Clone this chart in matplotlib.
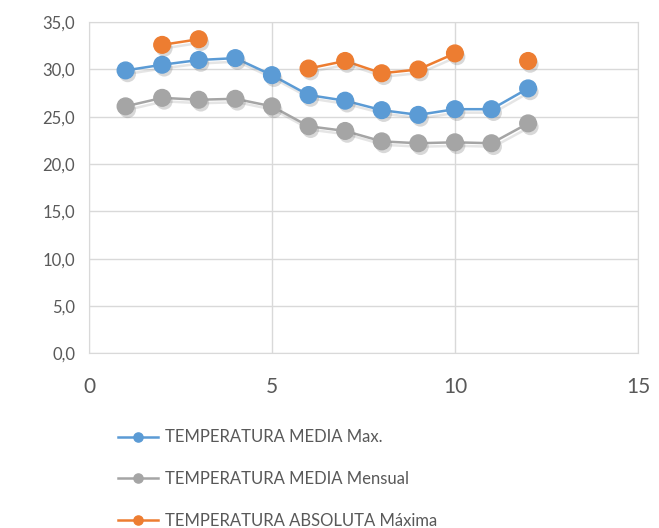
import matplotlib
matplotlib.use('Agg')
import matplotlib.pyplot as plt
import matplotlib.patheffects as pe
import numpy as np

plt.rcParams['font.family'] = ['Lato', 'DejaVu Sans']

meses = [1, 2, 3, 4, 5, 6, 7, 8, 9, 10, 11, 12]
media_max = [29.9, 30.5, 31.0, 31.2, 29.4, 27.3, 26.7, 25.7, 25.2, 25.8, 25.8, 28.0]
media_mensual = [26.1, 27.0, 26.8, 26.9, 26.1, 24.0, 23.5, 22.4, 22.2, 22.3, 22.2, 24.3]
absoluta_max = [np.nan, 32.6, 33.2, np.nan, np.nan, 30.1, 30.9, 29.6, 30.0, 31.7, np.nan, 30.9]

nombres = ['TEMPERATURA MEDIA Max.', 'TEMPERATURA MEDIA Mensual', 'TEMPERATURA ABSOLUTA Máxima']
colores = ['#5b9bd5', '#a5a5a5', '#ed7d31']

fig = plt.figure(figsize=(6.59, 5.28), dpi=100)
ax = fig.add_axes([0.135, 0.331, 0.833, 0.627])

# sombra solo para los marcadores
sombra = [pe.SimplePatchShadow(offset=(1.5, -2.5), alpha=0.3, shadow_rgbFace='#7f7f7f'), pe.Normal()]
sombra_linea = [pe.SimpleLineShadow(offset=(1.5, -2.5), alpha=0.2, shadow_color='#7f7f7f'), pe.Normal()]

for serie, nombre, color in zip([media_max, media_mensual, absoluta_max], nombres, colores):
    ax.plot(meses, serie, color=color, lw=1.8, path_effects=sombra_linea)
    ax.plot(meses, serie, ls='none', marker='o', ms=12, color=color,
            markeredgecolor=color, path_effects=sombra)
    ax.plot([], [], color=color, lw=1.8, marker='o', ms=12, markeredgecolor=color, label=nombre)

ax.set_xlim(0, 15)
ax.set_ylim(0, 35)
ax.set_xticks([0, 5, 10, 15])
ax.set_yticks(np.arange(0, 36, 5))
ax.set_yticklabels([f'{v:.1f}'.replace('.', ',') for v in np.arange(0, 36, 5)])
ax.grid(True, color='#d9d9d9', lw=1)
ax.set_axisbelow(True)
for s in ax.spines.values():
    s.set_color('#d9d9d9')
ax.tick_params(length=0, colors='#595959')
ax.tick_params(axis='y', labelsize=12, pad=10)
ax.tick_params(axis='x', labelsize=15, pad=17)

handles, labels = ax.get_legend_handles_labels()
fig.legend(handles, labels, loc='upper center', bbox_to_anchor=(0.421, 0.215),
           frameon=False, fontsize=12, labelcolor='#595959', handlelength=2.4,
           labelspacing=1.55, markerscale=0.55, handletextpad=0.4)

fig.savefig('out.png', dpi=100)
